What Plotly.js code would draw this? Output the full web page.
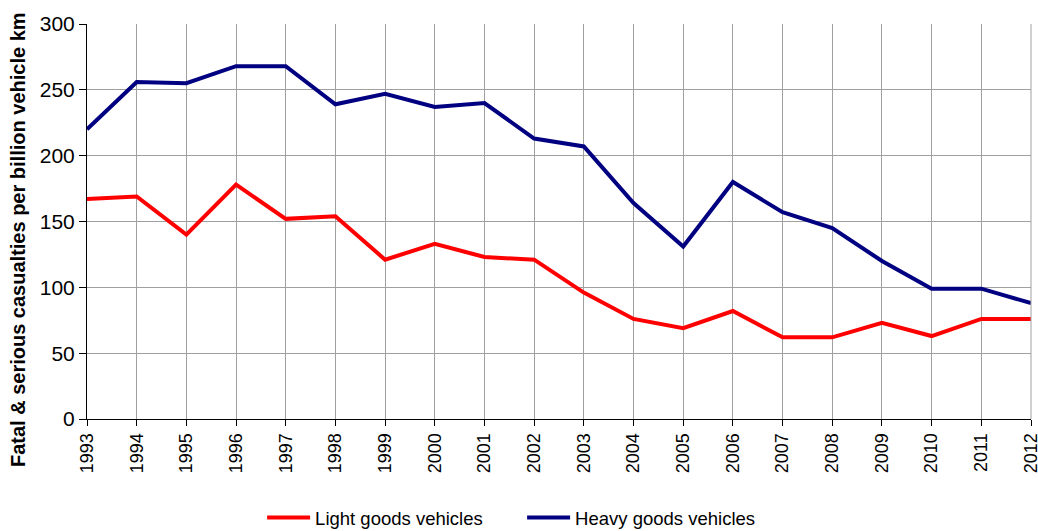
<!DOCTYPE html>
<html><head><meta charset="utf-8">
<script src="https://cdn.plot.ly/plotly-3.0.1.min.js"></script>
<style>html,body{margin:0;padding:0;background:#fff;}#chart{width:1038px;height:531px;}</style>
</head><body><div id="chart"></div>
<script>
var years = ['1993','1994','1995','1996','1997','1998','1999','2000','2001','2002','2003','2004','2005','2006','2007','2008','2009','2010','2011','2012'];
var lightGoods = [167,169,140,178,152,154,121,133,123,121,96,76,69,82,62,62,73,63,76,76];
var heavyGoods = [220,256,255,268,268,239,247,237,240,213,207,164,131,180,157,145,120,99,99,88];
var seriesNames = ['Light goods vehicles','Heavy goods vehicles'];
var yTitle = 'Fatal &amp; serious casualties per billion vehicle km';

var traces = [
  {x: years, y: lightGoods, name: seriesNames[0], type: 'scatter', mode: 'lines', line: {color: '#ff0000', width: 4}},
  {x: years, y: heavyGoods, name: seriesNames[1], type: 'scatter', mode: 'lines', line: {color: '#000080', width: 4}}
];
var layout = {
  width: 1038, height: 531,
  margin: {l: 87, r: 7, t: 24, b: 112},
  paper_bgcolor: '#fff', plot_bgcolor: '#fff',
  font: {family: 'Liberation Sans, Arial, sans-serif', color: '#000'},
  showlegend: true,
  legend: {orientation: 'h', xref: 'container', yref: 'container', x: 0.503, xanchor: 'center', y: 0.0245, yanchor: 'middle',
           font: {size: 18.5}, itemwidth: 43, entrywidth: 202, entrywidthmode: 'pixels'},
  xaxis: {
    type: 'category', range: [0, 19], tickangle: -90, automargin: false,
    tickfont: {size: 18}, showgrid: true, gridcolor: '#a0a0a0', gridwidth: 1,
    ticks: 'outside', ticklen: 6, tickcolor: '#000', showline: true, linecolor: '#000', linewidth: 1,
    zeroline: false
  },
  yaxis: {
    range: [0, 300], dtick: 50, tickfont: {size: 21}, automargin: false,
    showgrid: true, gridcolor: '#a0a0a0', gridwidth: 1,
    ticks: 'outside', ticklen: 7, tickcolor: '#000', showline: true, linecolor: '#000', linewidth: 1,
    zeroline: false
  },
  annotations: [
    {text: '<b>' + yTitle + '</b>', xref: 'paper', yref: 'paper', x: 0, y: 0.453, xanchor: 'center', yanchor: 'middle',
     xshift: -69, textangle: -90, showarrow: false, font: {size: 20}}
  ],
  shapes: [
    {type: 'line', xref: 'paper', yref: 'paper', x0: 1, x1: 1, y0: 0, y1: 1, line: {color: '#a0a0a0', width: 1}}
  ]
};
Plotly.newPlot('chart', traces, layout, {displayModeBar: false});
</script></body></html>
